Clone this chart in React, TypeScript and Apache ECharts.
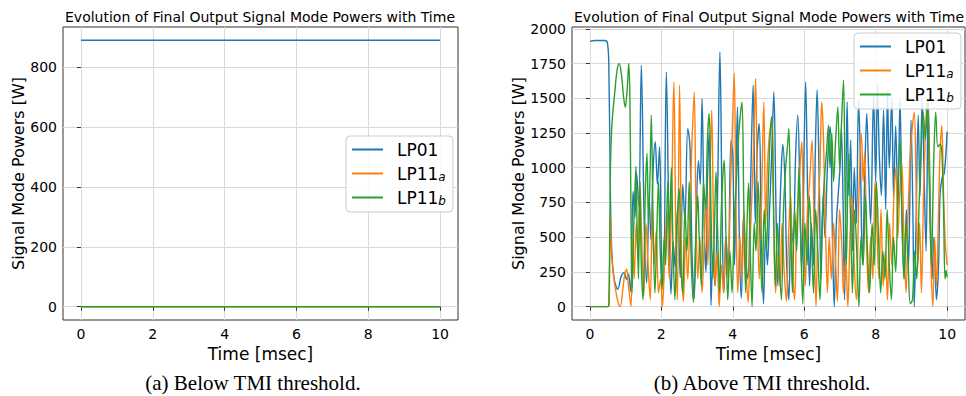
import React, { useEffect, useRef } from 'react';
import * as echarts from 'echarts';

const COLORS = ['#1f77b4', '#ff7f0e', '#2ca02c'];
const SERIES_NAMES = ['LP01', 'LP11a', 'LP11b'];
const X_TICKS = [0, 2, 4, 6, 8, 10];
const BELOW_Y_TICKS = [0, 200, 400, 600, 800];
const ABOVE_Y_TICKS = [0, 250, 500, 750, 1000, 1250, 1500, 1750, 2000];

const TITLE = 'Evolution of Final Output Signal Mode Powers with Time';
const CAPTION_A = '(a) Below TMI threshold.';
const CAPTION_B = '(b) Above TMI threshold.';

// (a) Below TMI threshold
const belowTime = [0, 10];
const belowLP01 = [890, 890];
const belowLP11a = [0, 0];
const belowLP11b = [0, 0];

// (b) Above TMI threshold: [time msec, power W]
const aboveLP01: [number, number][] = [
  [0, 1910], [0.15, 1916], [0.42, 1916], [0.49, 1900], [0.53, 1750], [0.57, 900], [0.61, 420], [0.68, 200],
  [0.78, 125], [0.88, 220], [0.96, 245], [1.03, 195], [1.08, 235], [1.14, 110], [1.21, 830], [1.26, 640],
  [1.31, 960], [1.37, 720], [1.44, 1737], [1.52, 620], [1.59, 170], [1.66, 790], [1.71, 480], [1.77, 980],
  [1.83, 1187], [1.89, 880], [1.95, 1152], [2.01, 280], [2.06, 150], [2.14, 1690], [2.21, 640], [2.27, 90],
  [2.33, 470], [2.39, 280], [2.46, 720], [2.53, 210], [2.6, 880], [2.66, 620], [2.74, 1283], [2.8, 1160],
  [2.86, 380], [2.92, 60], [2.98, 690], [3.04, 1050], [3.09, 880], [3.14, 1498], [3.2, 560], [3.25, 250],
  [3.29, 900], [3.34, 1254], [3.39, 10], [3.45, 400], [3.5, 150], [3.57, 750], [3.64, 1833], [3.7, 700],
  [3.75, 100], [3.81, 500], [3.87, 250], [3.95, 1199], [4.0, 1100], [4.05, 300], [4.09, 900], [4.13, 1438],
  [4.19, 400], [4.24, 60], [4.3, 650], [4.36, 350], [4.42, 200], [4.5, 900], [4.57, 1594], [4.63, 600],
  [4.68, 1100], [4.74, 1319], [4.8, 500], [4.86, 20], [4.92, 550], [4.97, 300], [5.03, 700], [5.09, 1100],
  [5.15, 1546], [5.21, 700], [5.26, 150], [5.32, 700], [5.36, 1000], [5.4, 1168], [5.46, 900], [5.51, 300],
  [5.57, 50], [5.63, 600], [5.69, 450], [5.76, 1100], [5.82, 1379], [5.88, 800], [5.93, 250], [5.98, 900],
  [6.04, 1618], [6.1, 700], [6.15, 150], [6.2, 600], [6.26, 300], [6.31, 1100], [6.36, 1559], [6.42, 900],
  [6.47, 200], [6.53, 800], [6.58, 500], [6.64, 950], [6.69, 1200], [6.73, 1295], [6.79, 500], [6.84, 0],
  [6.9, 600], [6.95, 800], [7.0, 1000], [7.04, 1283], [7.09, 700], [7.13, 50], [7.17, 900], [7.2, 1474],
  [7.25, 800], [7.3, 1200], [7.35, 400], [7.4, 1000], [7.46, 600], [7.52, 1486], [7.57, 1100], [7.63, 300],
  [7.69, 900], [7.75, 1390], [7.8, 1000], [7.86, 600], [7.94, 1522], [8.0, 900], [8.05, 1600], [8.1, 1100],
  [8.16, 800], [8.22, 1414], [8.28, 700], [8.33, 1550], [8.38, 1000], [8.45, 1510], [8.5, 800], [8.56, 1300],
  [8.62, 700], [8.68, 1500], [8.74, 600], [8.8, 200], [8.86, 700], [8.92, 300], [8.99, 1343], [9.04, 700],
  [9.08, 0], [9.13, 600], [9.19, 1379], [9.24, 800], [9.3, 1500], [9.36, 900], [9.41, 400], [9.47, 1486],
  [9.53, 700], [9.58, 200], [9.63, 500], [9.7, 50], [9.76, 300], [9.8, 800], [9.86, 930], [9.92, 960],
  [10, 1260],
];

const aboveLP11a: [number, number][] = [
  [0, 0], [0.5, 0], [0.54, 10], [0.57, 680], [0.6, 420], [0.65, 250], [0.72, 120], [0.8, 20], [0.85, 0],
  [0.92, 120], [0.98, 240], [1.03, 270], [1.08, 150], [1.15, 0], [1.2, 500], [1.24, 200], [1.3, 600],
  [1.35, 350], [1.4, 900], [1.45, 500], [1.51, 80], [1.57, 600], [1.63, 300], [1.69, 50], [1.75, 700],
  [1.8, 300], [1.86, 550], [1.92, 100], [1.98, 200], [2.03, 0], [2.1, 400], [2.16, 700], [2.22, 200],
  [2.29, 800], [2.35, 1618], [2.41, 400], [2.45, 50], [2.51, 1594], [2.57, 300], [2.62, 40], [2.68, 500],
  [2.74, 200], [2.8, 700], [2.86, 1200], [2.92, 1546], [2.97, 700], [3.02, 200], [3.08, 500], [3.14, 100],
  [3.2, 450], [3.26, 800], [3.3, 300], [3.36, 900], [3.41, 1414], [3.46, 600], [3.51, 150], [3.56, 400],
  [3.62, 0], [3.68, 300], [3.74, 100], [3.8, 500], [3.87, 200], [3.93, 800], [3.99, 1300], [4.04, 1680],
  [4.09, 700], [4.14, 100], [4.2, 500], [4.26, 200], [4.31, 700], [4.37, 300], [4.43, 30], [4.49, 500],
  [4.55, 900], [4.6, 1300], [4.64, 1642], [4.69, 700], [4.74, 200], [4.8, 700], [4.87, 1474], [4.92, 600],
  [4.97, 1000], [5.03, 1250], [5.1, 1343], [5.15, 600], [5.2, 100], [5.26, 400], [5.32, 150], [5.38, 600],
  [5.44, 250], [5.5, 40], [5.56, 500], [5.62, 800], [5.67, 300], [5.73, 50], [5.79, 600], [5.86, 900],
  [5.93, 1187], [5.98, 600], [6.03, 150], [6.09, 700], [6.15, 900], [6.22, 1199], [6.28, 500], [6.33, 0],
  [6.38, 600], [6.44, 1000], [6.49, 1474], [6.54, 1199], [6.6, 500], [6.65, 100], [6.7, 500], [6.76, 200],
  [6.82, 600], [6.88, 300], [6.93, 40], [6.99, 700], [7.05, 450], [7.1, 100], [7.16, 350], [7.22, 0],
  [7.28, 500], [7.34, 800], [7.4, 300], [7.46, 50], [7.52, 700], [7.6, 1247], [7.65, 900], [7.69, 1104],
  [7.75, 400], [7.8, 100], [7.86, 500], [7.92, 200], [7.98, 900], [8.03, 600], [8.09, 200], [8.15, 700],
  [8.21, 150], [8.27, 400], [8.33, 50], [8.39, 600], [8.45, 300], [8.51, 800], [8.57, 1000], [8.62, 500],
  [8.67, 800], [8.73, 1032], [8.79, 500], [8.85, 100], [8.91, 700], [8.97, 1100], [9.03, 1300], [9.08, 1402],
  [9.13, 900], [9.18, 300], [9.23, 600], [9.28, 100], [9.34, 800], [9.4, 1300], [9.45, 1500], [9.5, 1000],
  [9.55, 300], [9.6, 0], [9.65, 500], [9.7, 150], [9.76, 700], [9.8, 1100], [9.85, 1300], [9.9, 800],
  [9.95, 450], [10, 300],
];

const aboveLP11b: [number, number][] = [
  [0, 0], [0.5, 0], [0.53, 30], [0.56, 600], [0.58, 1050], [0.62, 1320], [0.7, 1550], [0.76, 1700],
  [0.82, 1750], [0.88, 1680], [0.94, 1520], [0.99, 1434], [1.04, 1550], [1.09, 1750], [1.12, 1500],
  [1.15, 700], [1.18, 100], [1.22, 500], [1.26, 830], [1.29, 1010], [1.32, 600], [1.36, 200], [1.4, 900],
  [1.44, 300], [1.49, 50], [1.55, 800], [1.6, 1104], [1.64, 600], [1.68, 900], [1.72, 1379], [1.77, 600],
  [1.82, 100], [1.87, 500], [1.92, 900], [1.97, 400], [2.02, 120], [2.08, 500], [2.12, 300], [2.18, 900],
  [2.23, 500], [2.28, 1000], [2.33, 400], [2.38, 50], [2.44, 600], [2.5, 850], [2.55, 300], [2.6, 100],
  [2.66, 700], [2.72, 400], [2.78, 900], [2.84, 300], [2.9, 30], [2.96, 450], [3.02, 800], [3.06, 500],
  [3.12, 150], [3.18, 900], [3.24, 700], [3.29, 1200], [3.34, 1390], [3.39, 700], [3.44, 200], [3.49, 600],
  [3.53, 970], [3.58, 500], [3.63, 100], [3.68, 700], [3.76, 1056], [3.81, 500], [3.86, 50], [3.92, 400],
  [3.98, 100], [4.04, 600], [4.1, 900], [4.17, 1250], [4.22, 1400], [4.26, 1474], [4.31, 700], [4.36, 100],
  [4.4, 600], [4.44, 888], [4.49, 400], [4.54, 0], [4.6, 600], [4.65, 400], [4.71, 900], [4.76, 500],
  [4.82, 100], [4.88, 700], [4.94, 400], [5.0, 900], [5.05, 1250], [5.09, 1367], [5.14, 700], [5.19, 150],
  [5.25, 600], [5.3, 300], [5.36, 50], [5.42, 700], [5.48, 1000], [5.53, 1150], [5.57, 1283], [5.62, 600],
  [5.67, 100], [5.73, 700], [5.79, 400], [5.85, 1000], [5.9, 500], [5.96, 20], [6.02, 600], [6.08, 300],
  [6.14, 800], [6.2, 500], [6.26, 100], [6.32, 700], [6.38, 400], [6.44, 50], [6.5, 600], [6.56, 900],
  [6.62, 1100], [6.68, 1307], [6.72, 1000], [6.77, 1250], [6.82, 900], [6.88, 1200], [6.94, 1438],
  [6.99, 1000], [7.04, 1300], [7.1, 1630], [7.14, 900], [7.18, 300], [7.24, 1100], [7.3, 600], [7.35, 100],
  [7.41, 700], [7.47, 400], [7.53, 0], [7.59, 500], [7.65, 300], [7.71, 800], [7.77, 400], [7.83, 100],
  [7.9, 600], [7.96, 300], [8.02, 900], [8.08, 500], [8.14, 100], [8.2, 400], [8.26, 200], [8.32, 700],
  [8.38, 300], [8.44, 50], [8.5, 500], [8.56, 250], [8.62, 800], [8.68, 1200], [8.73, 700], [8.79, 200],
  [8.85, 600], [8.91, 300], [8.97, 20], [9.03, 50], [9.09, 400], [9.15, 200], [9.21, 700], [9.27, 1100],
  [9.33, 1400], [9.39, 1200], [9.45, 1500], [9.5, 900], [9.56, 300], [9.62, 1000], [9.68, 1400],
  [9.74, 1150], [9.8, 1170], [9.85, 1120], [9.9, 700], [9.94, 200], [9.97, 260], [10, 210],
];

const FONT = 'DejaVu Sans';
const GRID_COLOR = '#d9d9d9';
const SPINE_COLOR = '#333333';

const plainNumber = (v: number) => String(v);

function makeXAxis(gridIndex: number) {
  return {
    type: 'value',
    gridIndex,
    min: -0.5,
    max: 10.5,
    axisLine: { show: false },
    axisTick: { show: true, customValues: X_TICKS, length: 4, lineStyle: { color: SPINE_COLOR } },
    axisLabel: { customValues: X_TICKS, formatter: plainNumber, margin: 7, fontSize: 14, fontFamily: FONT, color: '#000' },
    splitLine: { show: true, customValues: X_TICKS, lineStyle: { color: GRID_COLOR, width: 1 } },
    name: 'Time [msec]',
    nameLocation: 'middle',
    nameGap: 24,
    nameTextStyle: { fontSize: 17, fontFamily: FONT, color: '#000' },
  };
}

function makeYAxis(gridIndex: number, min: number, max: number, ticks: number[], gap: number) {
  return {
    type: 'value',
    gridIndex,
    min,
    max,
    axisLine: { show: false },
    axisTick: { show: true, customValues: ticks, length: 4, lineStyle: { color: SPINE_COLOR } },
    axisLabel: { customValues: ticks, formatter: plainNumber, margin: 6, fontSize: 14, fontFamily: FONT, color: '#000' },
    splitLine: { show: true, customValues: ticks, lineStyle: { color: GRID_COLOR, width: 1 } },
    name: 'Signal Mode Powers [W]',
    nameLocation: 'middle',
    nameGap: gap,
    nameTextStyle: { fontSize: 16, fontFamily: FONT, color: '#000' },
  };
}

function legendFormatter(name: string) {
  if (name === 'LP11a') return 'LP11{s|a}';
  if (name === 'LP11b') return 'LP11{s|b}';
  return name;
}

function makeLegend(left: number, top: number) {
  return {
    orient: 'vertical',
    left,
    top,
    data: SERIES_NAMES,
    icon: 'rect',
    itemWidth: 31,
    itemHeight: 2,
    itemGap: 5,
    padding: [4, 7, 5, 6],
    borderColor: '#cccccc',
    borderWidth: 1,
    borderRadius: 4,
    backgroundColor: 'rgba(255,255,255,0.85)',
    selectedMode: false,
    formatter: legendFormatter,
    textStyle: {
      fontSize: 17,
      fontFamily: FONT,
      color: '#000',
      lineHeight: 19,
      padding: [0, 0, 0, 9],
      rich: {
        s: { fontSize: 12, fontStyle: 'italic', fontFamily: FONT, color: '#000', verticalAlign: 'bottom', lineHeight: 6 },
      },
    },
  };
}

function lineSeries(name: string, data: any[], idx: number, colorIdx: number, smooth: number) {
  return {
    name,
    type: 'line',
    xAxisIndex: idx,
    yAxisIndex: idx,
    data,
    showSymbol: false,
    symbol: 'none',
    smooth,
    lineStyle: { width: 1.4, color: COLORS[colorIdx] },
    itemStyle: { color: COLORS[colorIdx] },
  };
}

export default function App() {
  const ref = useRef<HTMLDivElement>(null);
  useEffect(() => {
    if (!ref.current) return;
    const chart = echarts.init(ref.current, null, { renderer: 'svg' });
    const belowSeries = [belowLP01, belowLP11a, belowLP11b].map((vals, i) =>
      lineSeries(SERIES_NAMES[i], belowTime.map((t, j) => [t, vals[j]]), 0, i, 0)
    );
    const aboveSeries = [aboveLP01, aboveLP11a, aboveLP11b].map((vals, i) =>
      lineSeries(SERIES_NAMES[i], vals, 1, i, 0.35)
    );
    chart.setOption({
      animation: false,
      backgroundColor: '#ffffff',
      grid: [
        { left: 63, top: 27, width: 395, height: 293, show: true, borderColor: SPINE_COLOR, borderWidth: 1, backgroundColor: 'transparent' },
        { left: 572, top: 27, width: 393, height: 293, show: true, borderColor: SPINE_COLOR, borderWidth: 1, backgroundColor: 'transparent' },
      ],
      xAxis: [makeXAxis(0), makeXAxis(1)],
      yAxis: [
        makeYAxis(0, -44.5, 934.5, BELOW_Y_TICKS, 35),
        makeYAxis(1, -96, 2013, ABOVE_Y_TICKS, 45),
      ],
      legend: [makeLegend(346, 136), makeLegend(854, 33)],
      series: [...belowSeries, ...aboveSeries],
      graphic: [
        { type: 'text', x: 260, y: 17, style: { text: TITLE, font: `14px "${FONT}"`, fill: '#000', textAlign: 'center', textVerticalAlign: 'middle' } },
        { type: 'text', x: 769, y: 17, style: { text: TITLE, font: `14px "${FONT}"`, fill: '#000', textAlign: 'center', textVerticalAlign: 'middle' } },
        { type: 'text', x: 253, y: 383, style: { text: CAPTION_A, font: '21px "Liberation Serif"', fill: '#000', textAlign: 'center', textVerticalAlign: 'middle' } },
        { type: 'text', x: 762, y: 383, style: { text: CAPTION_B, font: '21px "Liberation Serif"', fill: '#000', textAlign: 'center', textVerticalAlign: 'middle' } },
      ],
    });
    return () => chart.dispose();
  }, []);
  return <div ref={ref} style={{ position: 'fixed', left: 0, top: 0, width: 966, height: 396, background: '#fff' }} />;
}
